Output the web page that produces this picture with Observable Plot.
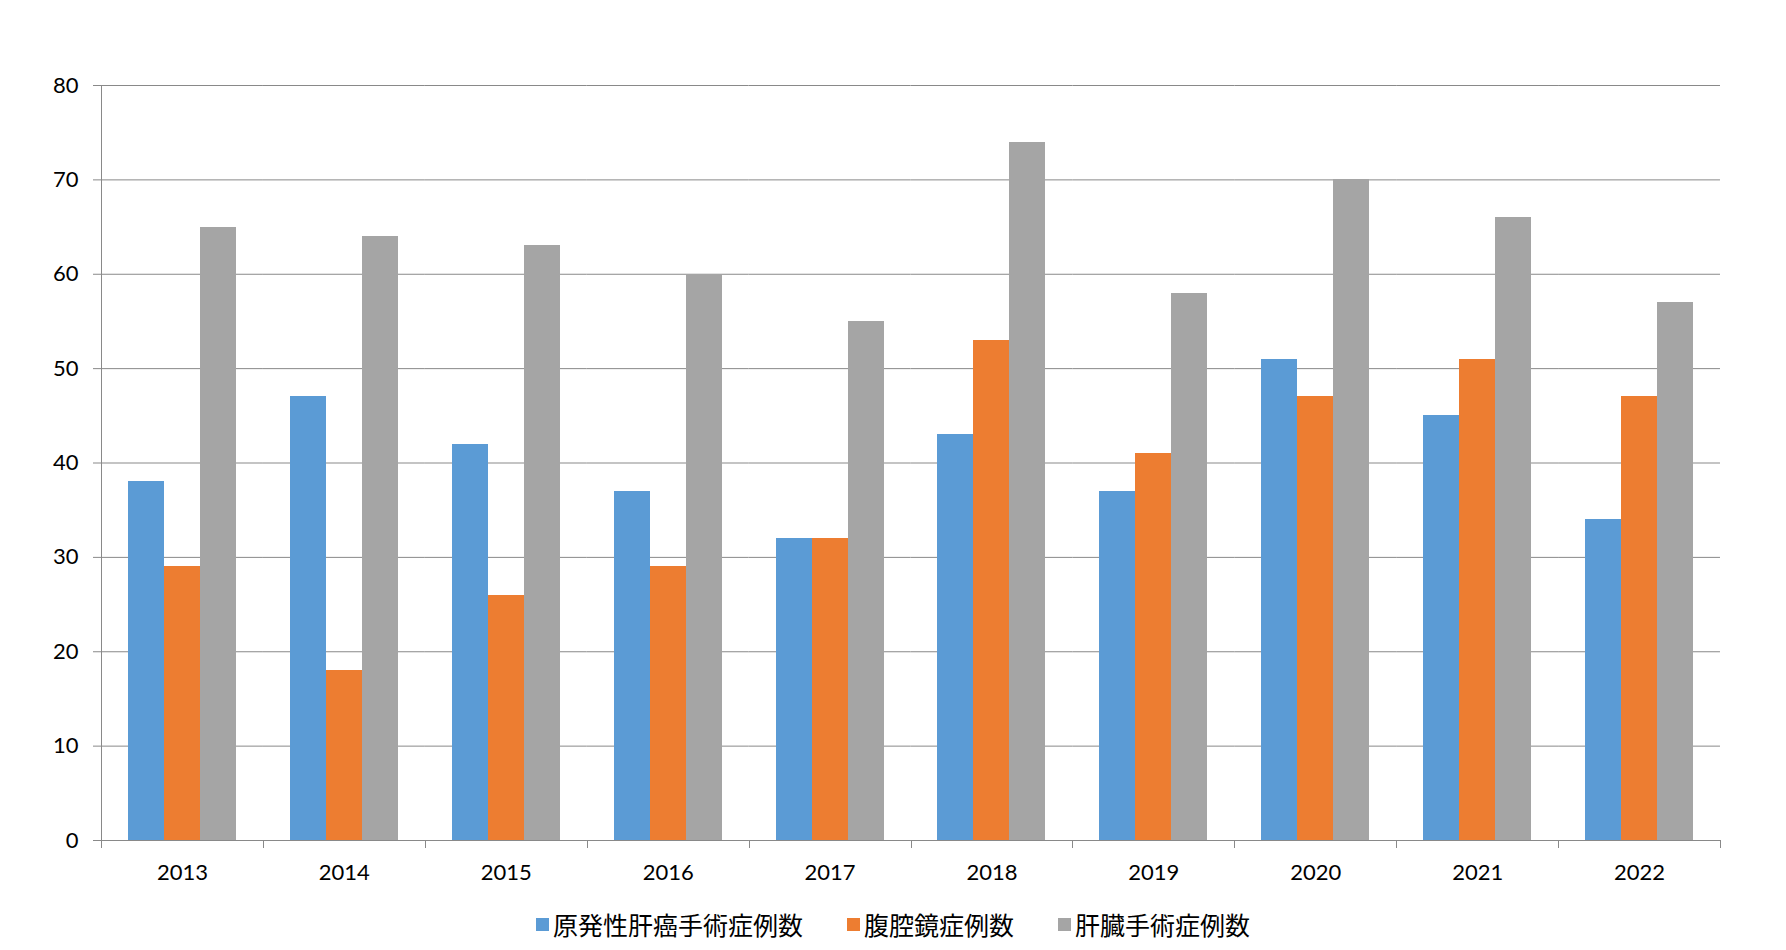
<!DOCTYPE html>
<html>
<head>
<meta charset="utf-8">
<script src="https://cdn.jsdelivr.net/npm/d3@7"></script>
<script src="https://cdn.jsdelivr.net/npm/@observablehq/plot@0.6"></script>
<style>
  html, body { margin: 0; padding: 0; background: #fff; }
  #legend { display: flex; justify-content: center; align-items: center; gap: 44px; height: 58px;
            font-family: "Noto Sans CJK JP", sans-serif; font-size: 25px; color: #000; }
  #legend .item { display: flex; align-items: center; gap: 4px; }
  #legend .sw { width: 13px; height: 13px; display: inline-block; }
</style>
</head>
<body>
<div id="chart"></div>
<div id="legend"></div>
<script>
const years = ["2013","2014","2015","2016","2017","2018","2019","2020","2021","2022"];
const series = ["原発性肝癌手術症例数", "腹腔鏡症例数", "肝臓手術症例数"];
const primaryLiverCancer = [38, 47, 42, 37, 32, 43, 37, 51, 45, 34];
const laparoscopic = [29, 18, 26, 29, 32, 53, 41, 47, 51, 47];
const liverSurgery = [65, 64, 63, 60, 55, 74, 58, 70, 66, 57];
const colors = ["#5B9BD5", "#ED7D31", "#A5A5A5"];
const yTicks = [0, 10, 20, 30, 40, 50, 60, 70, 80];

const values = [primaryLiverCancer, laparoscopic, liverSurgery];
const data = years.flatMap((yr, i) => series.map((s, j) => ({year: yr, series: s, value: values[j][i]})));

const gridColor = "#898989";

const plot = Plot.plot({
  width: 1786,
  height: 895,
  marginLeft: 101,
  marginRight: 66,
  marginTop: 85,
  marginBottom: 55,
  style: {fontFamily: "Lato, 'Open Sans', sans-serif", fontSize: "22px", color: "#000", background: "#fff"},
  fx: {domain: years, padding: 0, round: false, label: null},
  x: {domain: series, axis: null, paddingInner: 0, paddingOuter: 0.75, round: false},
  y: {domain: [0, 80], label: null},
  color: {domain: series, range: colors},
  marks: [
    Plot.gridY(yTicks, {stroke: gridColor, strokeOpacity: 1}),
    Plot.barY(data, {fx: "year", x: "series", y: "value", fill: "series", inset: 0, shapeRendering: "crispEdges"}),
    Plot.ruleY([0], {stroke: gridColor}),
    Plot.axisY(yTicks, {tickSize: 8, tickPadding: 15, stroke: gridColor, label: null, fontSize: 22}),
    Plot.axisFx({anchor: "bottom", tickSize: 0, tickPadding: 24, label: null, fontSize: 22})
  ]
});

// axis line and category-boundary tick marks, positioned through Plot's own scales
const fx = plot.scale("fx");
const y = plot.scale("y");
const bounds = years.map(d => fx.apply(d)).concat([fx.apply(years[years.length - 1]) + fx.bandwidth]);
const g = d3.select(plot).append("g").attr("stroke", gridColor).attr("stroke-width", 1);
g.append("line")
  .attr("x1", Math.round(bounds[0]) + 0.5).attr("x2", Math.round(bounds[0]) + 0.5)
  .attr("y1", y.apply(80)).attr("y2", y.apply(0));
g.selectAll("line.tick").data(bounds).join("line").attr("class", "tick")
  .attr("x1", d => Math.round(d) + 0.5).attr("x2", d => Math.round(d) + 0.5)
  .attr("y1", y.apply(0)).attr("y2", y.apply(0) + 8);

document.getElementById("chart").appendChild(plot);

const legend = d3.select("#legend");
series.forEach((s, i) => {
  const item = legend.append("div").attr("class", "item");
  item.append("span").attr("class", "sw").style("background", colors[i]);
  item.append("span").text(s);
});
</script>
</body>
</html>
